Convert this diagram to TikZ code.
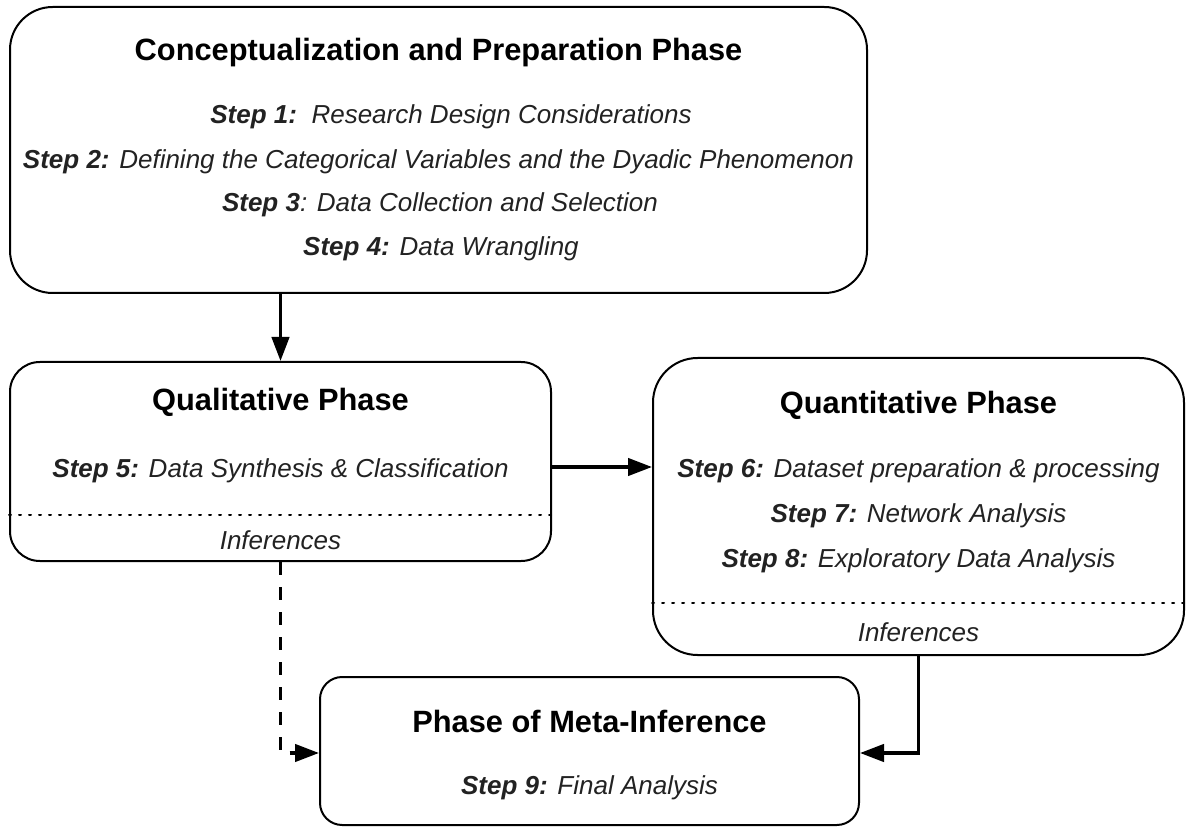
\documentclass[tikz,border=0pt]{standalone}
\usepackage{fontspec}
\setmainfont{Liberation Sans}
\usetikzlibrary{arrows.meta}
\definecolor{steptext}{HTML}{222222}
\newcommand{\stp}[1]{\textbf{\textit{#1}}}
\begin{document}
\begin{tikzpicture}[x=0.75pt,y=-0.75pt,
  phasebox/.style={draw=black, line width=1.5pt, inner sep=0pt},
  titletext/.style={inner sep=0pt, anchor=base, font=\fontsize{23.1pt}{28pt}\selectfont\bfseries, text=black},
  steptext/.style={inner sep=0pt, anchor=base, font=\fontsize{19.5pt}{23pt}\selectfont\itshape, text=steptext},
  sepline/.style={line width=1.5pt, dash pattern=on 1.5pt off 6pt, line cap=round},
  flow/.style={line width=2.5pt, -{Triangle[length=18pt,width=13pt]}},
  dflow/.style={line width=2.5pt, dash pattern=on 9.75pt off 9pt, -{Triangle[length=18pt,width=13pt]}}
]
\useasboundingbox (0,0) rectangle (1186,827);

% boxes
\node[phasebox, rounded corners=32pt, minimum width=642.75pt, minimum height=214.5pt] (top) at (438.5,150) {};
\node[phasebox, rounded corners=22.4pt, minimum width=405.75pt, minimum height=149.25pt] (qual) at (280.5,461.5) {};
\node[phasebox, rounded corners=33.4pt, minimum width=398.25pt, minimum height=222.75pt] (quant) at (918.5,506.5) {};
\node[phasebox, rounded corners=16.6pt, minimum width=404.25pt, minimum height=111pt] (meta) at (589.5,751) {};

% top box texts
\node[titletext] (toptitle) at (438.5,61) {Conceptualization and Preparation Phase};
\node[steptext] (s1) at (451,124) {\stp{Step 1:}\ \ Research Design Considerations};
\node[steptext] (s2) at (438.5,169) {\stp{Step 2:} Defining the Categorical Variables and the Dyadic Phenomenon};
\node[steptext] (s3) at (440,212) {\stp{Step 3}: Data Collection and Selection};
\node[steptext] (s4) at (441,256) {\stp{Step 4:} Data Wrangling};

% qualitative
\node[titletext] (qualtitle) at (280.5,411) {Qualitative Phase};
\node[steptext] (s5) at (280.5,477) {\stp{Step 5:} Data Synthesis \& Classification};
\coordinate (qsep) at (0,515);
\draw[sepline] (qual.west |- qsep) -- (qual.east |- qsep);
\node[steptext] (qinf) at (280.5,549) {Inferences};

% quantitative
\node[titletext] (quanttitle) at (918.5,413) {Quantitative Phase};
\node[steptext] (s6) at (918.5,477) {\stp{Step 6:} Dataset preparation \& processing};
\node[steptext] (s7) at (918.5,522) {\stp{Step 7:} Network Analysis};
\node[steptext] (s8) at (918.5,567) {\stp{Step 8:} Exploratory Data Analysis};
\coordinate (nsep) at (0,603);
\draw[sepline] (quant.west |- nsep) -- (quant.east |- nsep);
\node[steptext] (ninf) at (918.5,641) {Inferences};

% meta
\node[titletext] (metatitle) at (589.5,732) {Phase of Meta-Inference};
\node[steptext] (s9) at (589.5,794) {\stp{Step 9:} Final Analysis};

% connectors
\coordinate (lvl) at (0,467);
\coordinate (mlvl) at (0,753);
\draw[flow] (top.south -| qual.north) -- (qual.north);
\draw[flow] (qual.east |- lvl) -- (quant.west |- lvl);
\draw[flow] (quant.south) -- (quant.south |- mlvl) -- (meta.east |- mlvl);
\draw[dflow] (qual.south) -- (qual.south |- mlvl) -- (meta.west |- mlvl);
\end{tikzpicture}
\end{document}
